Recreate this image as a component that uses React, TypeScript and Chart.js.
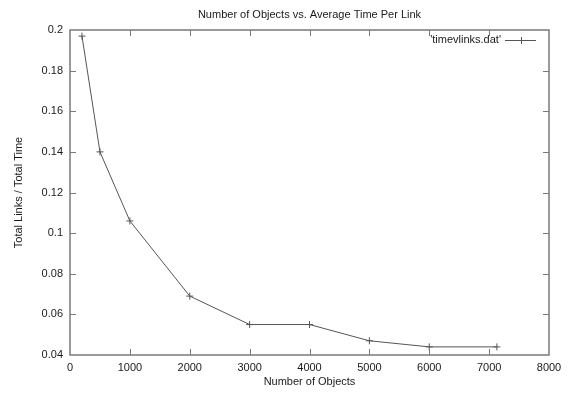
import React, { useEffect, useRef } from "react";
import { Chart, registerables } from "chart.js";

Chart.register(...registerables);

const numObjects = [200, 500, 1000, 2000, 3000, 4000, 5000, 6000, 7130];
const linksPerTime = [0.197, 0.14, 0.106, 0.069, 0.055, 0.055, 0.047, 0.044, 0.044];
const seriesLabel = "'timevlinks.dat'";
const titleText = "Number of Objects vs. Average Time Per Link";
const xTitle = "Number of Objects";
const yTitle = "Total Links / Total Time";
const xRange = [0, 8000, 1000];
const yRange = [0.04, 0.2, 0.02];

const FONT = "'Liberation Sans', Arial, Helvetica, sans-serif";
const TEXT = "#1a1a1a";
const AXIS = "#7a7a7a";
const LINE = "#555555";

const framePlugin = {
  id: "frame",
  afterDraw(chart: any) {
    const { ctx, chartArea } = chart;
    const { left, right, top, bottom } = chartArea;
    const xs = chart.scales.x;
    const ys = chart.scales.y;
    ctx.save();
    ctx.strokeStyle = AXIS;
    ctx.lineWidth = 1.5;
    ctx.strokeRect(left, top, right - left, bottom - top);
    ctx.lineWidth = 1;
    const tl = 6;
    ctx.beginPath();
    xs.ticks.forEach((t: any) => {
      const px = Math.round(xs.getPixelForValue(t.value)) + 0.5;
      if (px <= left + 1 || px >= right - 1) return;
      ctx.moveTo(px, bottom);
      ctx.lineTo(px, bottom - tl);
      ctx.moveTo(px, top);
      ctx.lineTo(px, top + tl);
    });
    ys.ticks.forEach((t: any) => {
      const py = Math.round(ys.getPixelForValue(t.value)) + 0.5;
      if (py <= top + 1 || py >= bottom - 1) return;
      ctx.moveTo(left, py);
      ctx.lineTo(left + tl, py);
      ctx.moveTo(right, py);
      ctx.lineTo(right - tl, py);
    });
    ctx.stroke();

    // legend (gnuplot style, top-right inside)
    const ly = top + 10;
    const lx1 = right - 44;
    const lx2 = right - 13;
    ctx.font = `11px ${FONT}`;
    ctx.fillStyle = TEXT;
    ctx.textAlign = "right";
    ctx.textBaseline = "middle";
    ctx.fillText(seriesLabel, lx1 - 4, ly);
    ctx.strokeStyle = LINE;
    ctx.beginPath();
    ctx.moveTo(lx1, ly + 0.5);
    ctx.lineTo(lx2, ly + 0.5);
    const cx = Math.round((lx1 + lx2) / 2) + 0.5;
    ctx.moveTo(cx, ly - 3);
    ctx.lineTo(cx, ly + 4);
    ctx.stroke();
    ctx.restore();
  },
};

export default function App() {
  const ref = useRef<HTMLCanvasElement | null>(null);
  useEffect(() => {
    if (!ref.current) return;
    const chart = new Chart(ref.current, {
      type: "line",
      data: {
        datasets: [
          {
            label: seriesLabel,
            data: numObjects.map((x, i) => ({ x, y: linksPerTime[i] })),
            borderColor: LINE,
            backgroundColor: LINE,
            borderWidth: 1,
            pointStyle: "cross",
            pointRadius: 3.5,
            pointBorderWidth: 1,
            pointBorderColor: LINE,
            tension: 0,
            fill: false,
          },
        ],
      },
      options: {
        animation: false,
        responsive: false,
        maintainAspectRatio: false,
        layout: { padding: { left: 0, right: 23, top: 0, bottom: 0 } },
        plugins: {
          legend: { display: false },
          tooltip: { enabled: false },
          title: {
            display: true,
            text: titleText,
            fullSize: false,
            color: TEXT,
            font: { family: FONT, size: 11, weight: "normal" },
            padding: { top: 8, bottom: 8.8 },
          },
        },
        scales: {
          x: {
            type: "linear",
            min: xRange[0],
            max: xRange[1],
            grid: { display: false, drawTicks: false, drawOnChartArea: false },
            border: { display: false },
            afterFit: (s: any) => {
              s.height = 38;
            },
            ticks: {
              stepSize: xRange[2],
              color: TEXT,
              padding: 6,
              maxRotation: 0,
              font: { family: FONT, size: 11 },
              callback: (v: any) => String(v),
            },
            title: {
              display: true,
              text: xTitle,
              color: TEXT,
              font: { family: FONT, size: 11 },
              padding: { top: 4, bottom: 4 },
            },
          },
          y: {
            type: "linear",
            min: yRange[0],
            max: yRange[1],
            grid: { display: false, drawTicks: false, drawOnChartArea: false },
            border: { display: false },
            afterFit: (s: any) => {
              s.width = 70;
            },
            ticks: {
              stepSize: yRange[2],
              color: TEXT,
              padding: 7,
              font: { family: FONT, size: 11 },
              callback: (v: any) => String(Number(Number(v).toFixed(4))),
            },
            title: {
              display: true,
              text: yTitle,
              color: TEXT,
              font: { family: FONT, size: 11 },
              padding: { top: 12, bottom: 4 },
            },
          },
        },
      },
      plugins: [framePlugin],
    });
    return () => chart.destroy();
  }, []);
  return (
    <div style={{ position: "fixed", left: 0, top: 0, width: 572, height: 393, background: "#fff" }}>
      <canvas ref={ref} width={572} height={393} style={{ width: 572, height: 393, display: "block" }} />
    </div>
  );
}
